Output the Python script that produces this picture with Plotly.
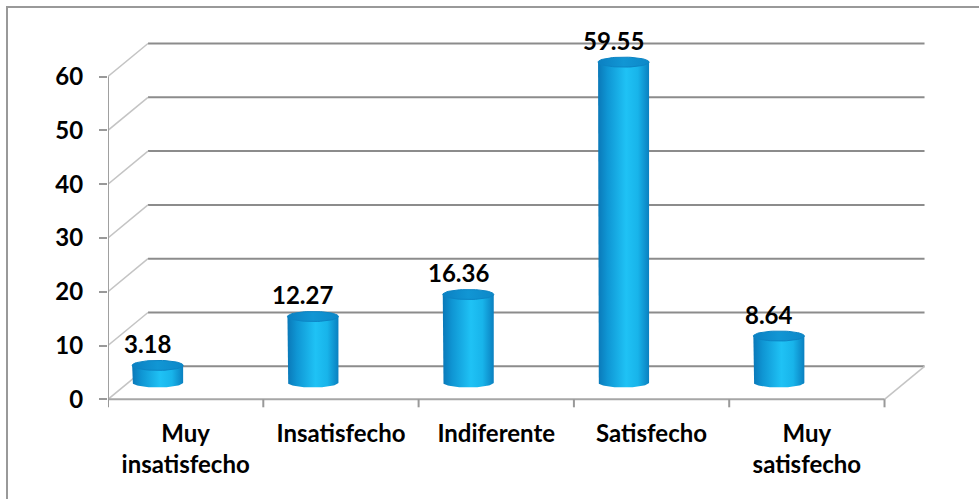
import numpy as np
import plotly.graph_objects as go

# ---------------- data ----------------
categories = ["Muy<br>insatisfecho", "Insatisfecho", "Indiferente", "Satisfecho", "Muy<br>satisfecho"]
values = [3.18, 12.27, 16.36, 59.55, 8.64]
value_labels = ["3.18", "12.27", "16.36", "59.55", "8.64"]
y_ticks = [0, 10, 20, 30, 40, 50, 60]

# ---------------- geometry (pixels -> axis units) ----------------
W, H = 979, 499
ML, MR, MT, MB = 108, 51, 30, 89
X_RANGE = [-0.5, 4.78]
PX_X = (W - ML - MR) / (X_RANGE[1] - X_RANGE[0])
Y0_PX = 399.3
PX_Y = 5.38
Y_RANGE = [-(H - MB - Y0_PX) / PX_Y, (Y0_PX - MT) / PX_Y]
DX = 40 / PX_X          # depth offset of back wall
DY = 33 / PX_Y
BAR_DX = -28 / PX_X     # bar centre offset from category centre
BAR_BASE = 16.8 / PX_Y  # bar baseline (mid depth)
RX = 25.5 / PX_X
RY = 5.0 / PX_Y
LBL_DX = -10 / PX_X

FONT = dict(family="Lato, Open Sans, sans-serif", size=24, color="#000000", weight="bold")
GRID = "#8c8c8c"
DIAG = "#c4c4c4"

fig = go.Figure()

# ---------------- cylinders ----------------
arc_t = np.linspace(np.pi, 2 * np.pi, 40)
t_full = np.linspace(0, 2 * np.pi, 60)
body_scale = [[0.0, "#0a78b8"], [0.18, "#0f95d3"], [0.55, "#1fc2f5"], [0.78, "#18b4ea"], [1.0, "#0a80c0"]]
cap_scale = [[0.0, "#0b80c2"], [0.5, "#1196d4"], [1.0, "#0d88c8"]]

for i, v in enumerate(values):
    cx = i + BAR_DX
    y0 = BAR_BASE
    y1 = BAR_BASE + v
    bx = [cx - RX] + list(cx + RX * np.cos(arc_t)) + [cx + RX, cx - RX]
    by = [y1] + list(y0 + RY * np.sin(arc_t)) + [y1, y1]
    fig.add_trace(go.Scatter(
        x=bx, y=by, mode="lines", fill="toself", line=dict(width=0),
        fillgradient=dict(type="horizontal", colorscale=body_scale),
        hoverinfo="skip", showlegend=False))
    fig.add_trace(go.Scatter(
        x=list(cx + RX * np.cos(t_full)), y=list(y1 + RY * np.sin(t_full)),
        mode="lines", fill="toself", line=dict(width=1, color="#0c84c4"),
        fillgradient=dict(type="horizontal", colorscale=cap_scale),
        hoverinfo="skip", showlegend=False))
    fig.add_annotation(x=cx + LBL_DX, y=y1 + RY, text=value_labels[i], showarrow=False,
                       xanchor="center", yanchor="bottom", yshift=0, font=FONT)

# ---------------- 3D frame ----------------
shapes = []
x_left, x_right = -0.5, len(categories) - 0.5
for t in y_ticks:
    shapes.append(dict(type="line", x0=x_left + DX, x1=x_right + DX, y0=t + DY, y1=t + DY,
                       line=dict(color=GRID, width=2), layer="below"))
    shapes.append(dict(type="line", x0=x_left, x1=x_left + DX, y0=t, y1=t + DY,
                       line=dict(color=DIAG, width=1.5), layer="below"))
shapes.append(dict(type="line", x0=x_left, x1=x_right, y0=0, y1=0,
                   line=dict(color="#a6a6a6", width=2), layer="below"))
shapes.append(dict(type="line", x0=x_right, x1=x_right + DX, y0=0, y1=DY,
                   line=dict(color=DIAG, width=1.5), layer="below"))
shapes.append(dict(type="line", x0=x_left, x1=x_left, y0=0, y1=y_ticks[-1],
                   line=dict(color="#a0a0a0", width=2), layer="below"))
for k in range(len(categories) + 1):
    xb = x_left + k
    shapes.append(dict(type="line", x0=xb, x1=xb, y0=0, y1=-8 / PX_Y,
                       line=dict(color="#999999", width=2), layer="below"))
shapes.append(dict(type="rect", xref="paper", yref="paper",
                   x0=(7 - ML) / (W - ML - MR), x1=(990 - ML) / (W - ML - MR),
                   y0=(H - MB - 510) / (H - MB - MT), y1=(H - MB - 7) / (H - MB - MT),
                   line=dict(color="#999999", width=2), layer="below"))

fig.update_layout(
    width=W, height=H,
    margin=dict(l=ML, r=MR, t=MT, b=MB, pad=0),
    paper_bgcolor="white", plot_bgcolor="white",
    showlegend=False,
    shapes=shapes,
    xaxis=dict(range=X_RANGE, tickmode="array", tickvals=list(range(len(categories))),
               ticktext=categories, ticks="", showgrid=False, zeroline=False, showline=False,
               tickfont=FONT, ticklabelstandoff=7, fixedrange=True),
    yaxis=dict(range=Y_RANGE, tickmode="array", tickvals=y_ticks, ticks="outside",
               ticklen=8, tickwidth=2, tickcolor="#999999", showgrid=False, zeroline=False,
               showline=False, tickfont=FONT, ticklabelstandoff=11, fixedrange=True),
)

fig.write_html("out.html")
